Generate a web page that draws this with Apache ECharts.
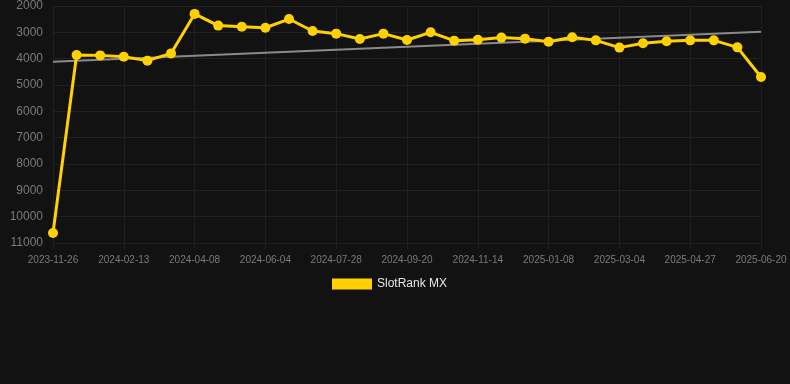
<!DOCTYPE html>
<html>
<head>
<meta charset="utf-8">
<script src="https://cdn.jsdelivr.net/npm/echarts@6/dist/echarts.min.js"></script>
<style>
  html, body { margin: 0; padding: 0; background: #121212; }
  #chart { width: 790px; height: 384px; }
</style>
</head>
<body>
<div id="chart"></div>
<script>
// dates shown on the x axis (every third one gets a label)
const dates = [
  "2023-11-26", "2023-12-22", "2024-01-18", "2024-02-13", "2024-03-02", "2024-03-20",
  "2024-04-08", "2024-04-27", "2024-05-16", "2024-06-04", "2024-06-22", "2024-07-10",
  "2024-07-28", "2024-08-15", "2024-09-02", "2024-09-20", "2024-10-08", "2024-10-26",
  "2024-11-14", "2024-12-02", "2024-12-20", "2025-01-08", "2025-01-26", "2025-02-14",
  "2025-03-04", "2025-03-22", "2025-04-09", "2025-04-27", "2025-05-15", "2025-06-02",
  "2025-06-20"
];
// rank values (lower = better, axis is inverted)
const rankMX = [
  10620, 3860, 3875, 3925, 4075, 3800,
  2300, 2745, 2785, 2825, 2495, 2950,
  3050, 3255, 3050, 3290, 3000, 3315,
  3280, 3200, 3240, 3355, 3190, 3305,
  3580, 3415, 3340, 3305, 3305, 3570,
  4695
];
// trend line end values (first and last date)
const trendEnds = [4115, 2975];

const chart = echarts.init(document.getElementById("chart"));
chart.setOption({
  backgroundColor: "#121212",
  animation: false,
  grid: { left: 53, right: 29, top: 6, bottom: 141 },
  legend: {
    top: 273,
    left: 327,
    itemWidth: 40,
    itemHeight: 11,
    itemGap: 6,
    icon: "rect",
    textStyle: { color: "#e6e6e6", fontSize: 12, fontFamily: "Liberation Sans, Arial, sans-serif" },
    data: ["SlotRank MX"],
  },
  xAxis: {
    type: "category",
    data: dates,
    boundaryGap: false,
    axisLine: { show: true, lineStyle: { color: "#1f1f1f" } },
    axisTick: { show: true, interval: 2, length: 6, lineStyle: { color: "#1f1f1f" } },
    axisLabel: {
      interval: 2,
      color: "#7a7a7a",
      fontSize: 10,
      margin: 12,
      fontFamily: "Liberation Sans, Arial, sans-serif",
    },
    splitLine: { show: true, interval: 2, lineStyle: { color: "#202020" } },
  },
  yAxis: {
    type: "value",
    inverse: true,
    min: 2000,
    max: 11000,
    interval: 1000,
    axisLine: { show: false },
    axisTick: { show: false },
    axisLabel: {
      color: "#7a7a7a",
      fontSize: 12,
      margin: 10,
      formatter: (v) => String(v),
      fontFamily: "Liberation Sans, Arial, sans-serif",
    },
    splitLine: { lineStyle: { color: "#202020" } },
  },
  series: [
    {
      name: "SlotRank MX",
      type: "line",
      data: rankMX,
      color: "#ffd100",
      symbol: "circle",
      symbolSize: 10,
      lineStyle: { width: 3, color: "#ffd100" },
      itemStyle: { color: "#ffd100" },
      z: 3,
      markLine: {
        silent: true,
        symbol: "none",
        label: { show: false },
        lineStyle: { color: "#8a8a8a", width: 2, type: "solid" },
        data: [[
          { coord: [dates[0], trendEnds[0]] },
          { coord: [dates[dates.length - 1], trendEnds[1]] },
        ]],
        z: 1,
      },
    },
  ],
});
</script>
</body>
</html>
